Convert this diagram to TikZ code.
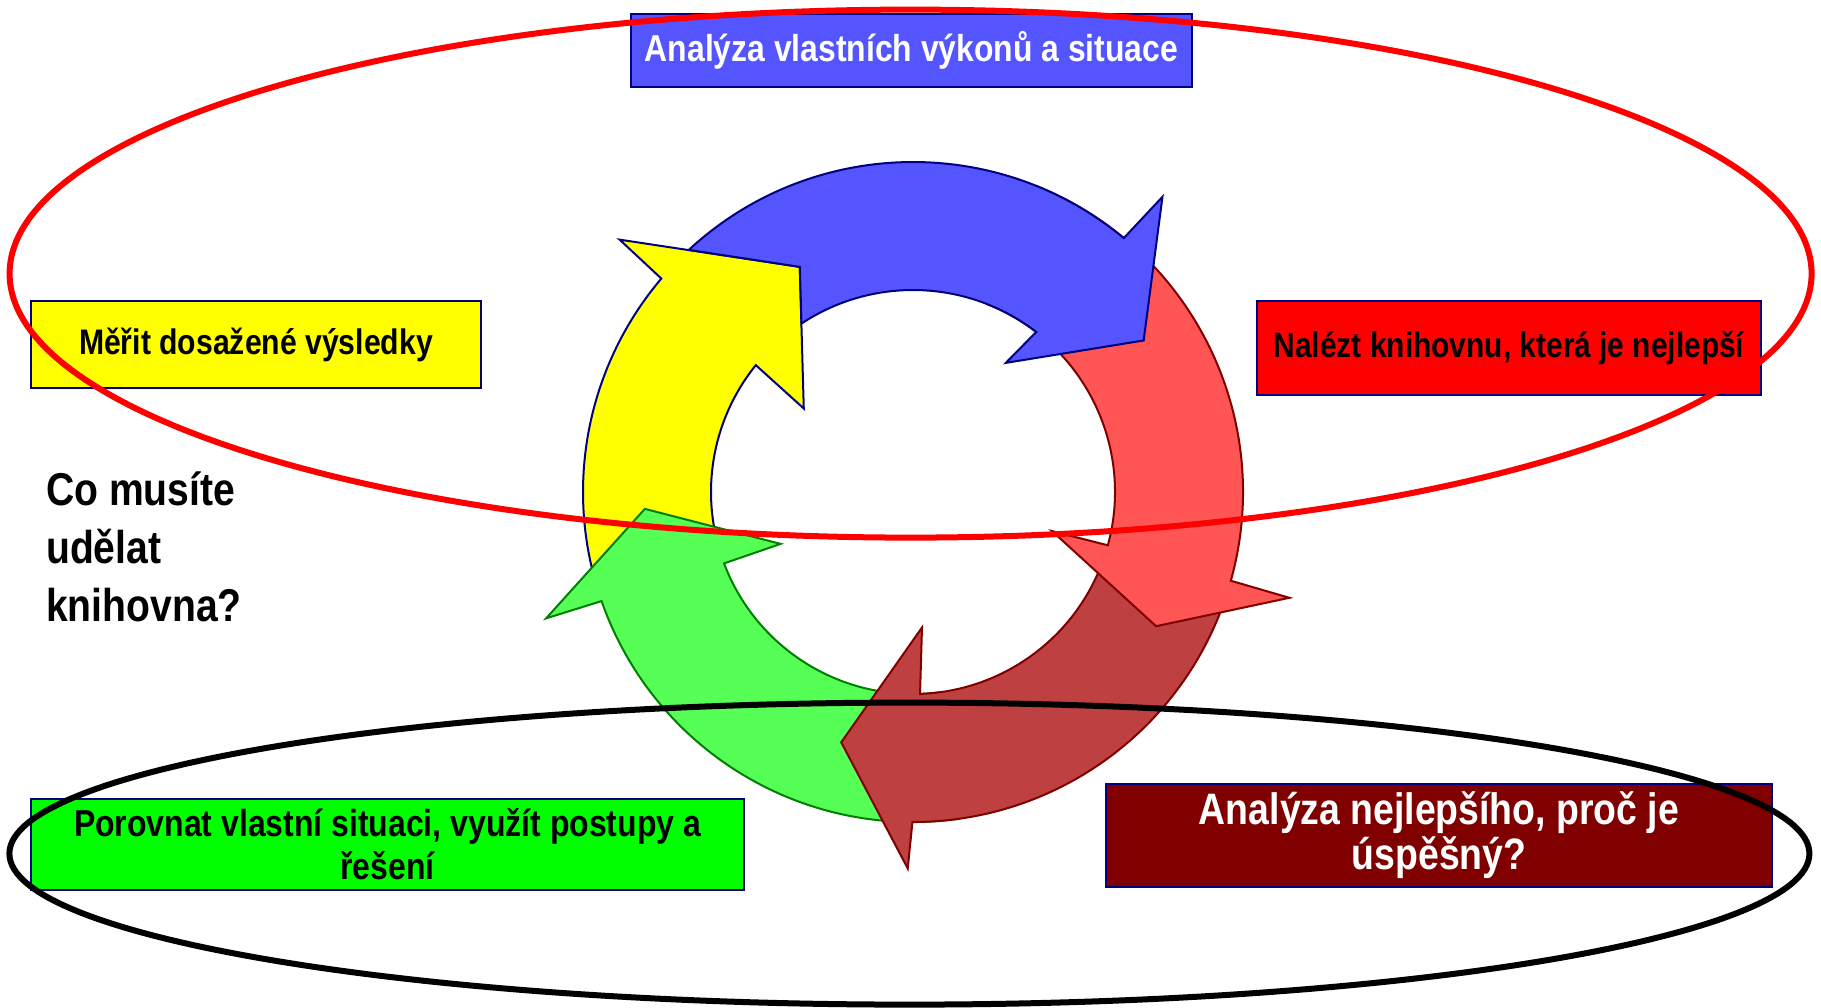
\documentclass[tikz,border=0pt]{standalone}
\usepackage{fontspec}
\setmainfont{Liberation Sans}[FakeStretch=0.85]
\definecolor{navy}{RGB}{0,0,128}
\definecolor{bluef}{RGB}{85,85,255}
\definecolor{lredf}{RGB}{255,85,85}
\definecolor{dredf}{RGB}{191,64,64}
\definecolor{greenf}{RGB}{85,255,85}
\definecolor{maroonc}{RGB}{128,0,0}
\definecolor{dgreen}{RGB}{0,128,0}
\definecolor{greenbox}{RGB}{0,255,0}
\definecolor{yellowc}{RGB}{255,255,0}
\begin{document}
\begin{tikzpicture}[x=1pt,y=1pt,yscale=-1,
  box/.style={draw=navy,line width=1.5pt,inner sep=0pt,align=center},
  arr/.style={line width=2pt,line join=miter},
  qtext/.style={anchor=base west,inner sep=0pt,font=\bfseries\fontsize{46}{58}\selectfont}]
\useasboundingbox (0,0) rectangle (1821,1007);
% boxes
\node[box,fill=bluef,text=white,minimum width=561pt,minimum height=73pt,
  font=\bfseries\fontsize{37.5}{45}\selectfont] (b1) at (911.5,50.5)
  {Analýza vlastních výkonů a situace};
\node[box,fill=yellowc,text=black,minimum width=450pt,minimum height=87pt,
  font=\bfseries\fontsize{35.5}{43}\selectfont] (y1) at (256,344.5)
  {Měřit dosažené výsledky};
\node[box,fill=red,text=black,minimum width=504pt,minimum height=94pt,
  font=\bfseries\fontsize{35.2}{43}\selectfont] (r1) at (1509,348)
  {Nalézt knihovnu, která je nejlepší};
\node[box,fill=greenbox,text=black,minimum width=713pt,minimum height=91pt,
  font=\bfseries\fontsize{37.6}{43}\selectfont] (g1) at (387.5,844.5)
  {Porovnat vlastní situaci, využít postupy a\\ řešení};
\node[box,fill=maroonc,text=white,minimum width=666pt,minimum height=103pt,
  font=\bfseries\fontsize{44}{45}\selectfont] (d1) at (1439,835.5)
  {Analýza nejlepšího, proč je\\ úspěšný?};
\node[qtext] (q1) at (46,505) {Co musíte};
\node[qtext] (q2) at (46,563) {udělat};
\node[qtext] (q3) at (46,621) {knihovna?};
% cycle arrows
\begin{scope}[shift={(913,492)}]
 \filldraw[arr,fill=yellowc,draw=navy] (163:330) arc[start angle=163,end angle=220.3,radius=330]
   -- (220.7:387) -- (243.3:252) -- (217.4:137.5) -- (218.9:202)
   arc[start angle=218.9,end angle=163,radius=202] -- cycle;
 \filldraw[arr,fill=greenf,draw=dgreen] (82:330) arc[start angle=82,end angle=160.7,radius=330]
   -- (161:388) -- (176.4:268.7) -- (158.6:142.2) -- (159.3:202)
   arc[start angle=159.3,end angle=82,radius=202] -- cycle;
 \filldraw[arr,fill=dredf,draw=maroonc] (18:330) arc[start angle=18,end angle=90.1,radius=330]
   -- (90.8:376.5) -- (106:260.4) -- (86.2:135.8) -- (88:202)
   arc[start angle=88,end angle=18,radius=202] -- cycle;
 \filldraw[arr,fill=lredf,draw=maroonc] (292:330) arc[start angle=292,end angle=375.6,radius=330]
   -- (15.7:391) -- (28.9:277.7) -- (15.7:144.4) -- (15.3:202)
   arc[start angle=375.3,end angle=292,radius=202] -- cycle;
 \filldraw[arr,fill=bluef,draw=navy] (227.2:330) arc[start angle=227.2,end angle=309.7,radius=330]
   -- (310.2:386.5) -- (326.7:276) -- (305.7:159) -- (307.6:202)
   arc[start angle=307.6,end angle=236.5,radius=202] -- (243.3:252) -- cycle;
\end{scope}
% ellipses
\draw[red,line width=6pt] (910.6,273.6) ellipse[x radius=901,y radius=264];
\draw[black,line width=6pt] (909.4,853.6) ellipse[x radius=900,y radius=151];
\end{tikzpicture}
\end{document}
